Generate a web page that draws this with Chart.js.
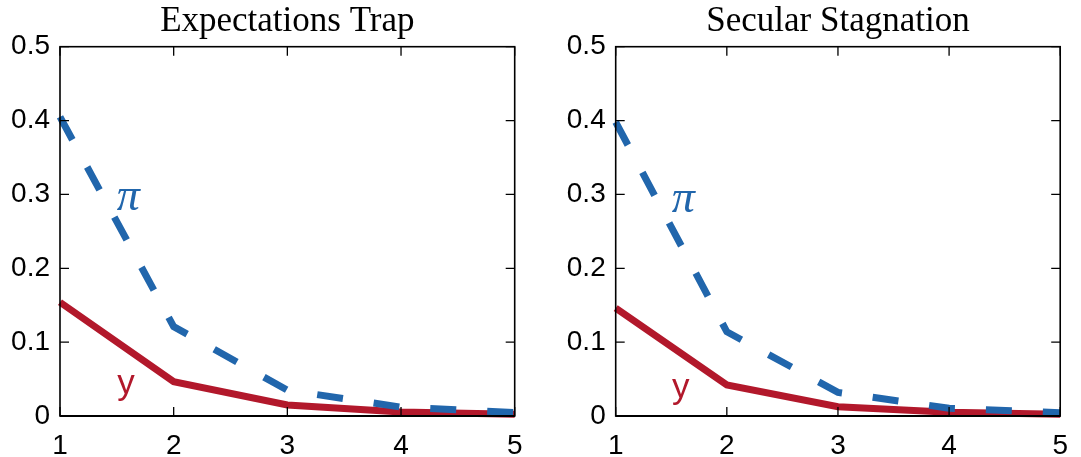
<!DOCTYPE html>
<html lang="en">
<head>
<meta charset="UTF-8">
<title>Expectations Trap / Secular Stagnation</title>
<script src="https://cdn.jsdelivr.net/npm/chart.js@4.4.1/dist/chart.umd.min.js"></script>
<style>
  html, body { margin: 0; padding: 0; background: #fff; }
  #wrap { position: relative; width: 1081px; height: 457px; }
  .panel { position: absolute; top: 0; height: 457px; }
  #left { left: 0; width: 540px; }
  #right { left: 540px; width: 541px; }
</style>
</head>
<body>
<div id="wrap">
  <div class="panel" id="left"><canvas id="trapChart"></canvas></div>
  <div class="panel" id="right"><canvas id="stagChart"></canvas></div>
</div>

<script>
// data
const periods = [1, 2, 3, 4, 5];
const yTicks = [0, 0.1, 0.2, 0.3, 0.4, 0.5];

const trapInflation = [0.405, 0.121, 0.035, 0.012, 0.0045];
const trapOutput    = [0.154, 0.0465, 0.015, 0.0055, 0.0025];
const stagInflation = [0.398, 0.114, 0.032, 0.0105, 0.0045];
const stagOutput    = [0.146, 0.042, 0.0126, 0.005, 0.0023];

const titles = ['Expectations Trap', 'Secular Stagnation'];
const seriesNames = ['\u03c0', 'y'];

// text labels for the two lines, in data units (x, y baseline)
const trapLabelPos = [[1.6, 0.279], [1.58, 0.03]];
const stagLabelPos = [[1.607, 0.276], [1.585, 0.025]];

const BLUE = '#2166ac';
const RED = '#b2182b';
const TICK_LEN = 9;

// box, inward ticks and the π / y labels
const frameAndTicks = {
    id: 'frameAndTicks',
    afterDatasetsDraw(chart, args, opts) {
        const { ctx, chartArea: a, scales: { x, y } } = chart;
        ctx.save();
        ctx.strokeStyle = '#000';
        ctx.lineWidth = 1.3;
        ctx.beginPath();
        x.ticks.forEach(t => {
            const px = x.getPixelForValue(t.value);
            ctx.moveTo(px, a.bottom); ctx.lineTo(px, a.bottom - TICK_LEN);
            ctx.moveTo(px, a.top); ctx.lineTo(px, a.top + TICK_LEN);
        });
        y.ticks.forEach(t => {
            const py = y.getPixelForValue(t.value);
            ctx.moveTo(a.left, py); ctx.lineTo(a.left + TICK_LEN, py);
            ctx.moveTo(a.right, py); ctx.lineTo(a.right - TICK_LEN, py);
        });
        ctx.stroke();

        ctx.lineWidth = 1.6;
        ctx.strokeRect(a.left, a.top, a.right - a.left, a.bottom - a.top);
        ctx.lineWidth = 2.2;
        ctx.beginPath();
        ctx.moveTo(a.left, a.bottom); ctx.lineTo(a.right, a.bottom);
        ctx.stroke();

        ctx.textAlign = 'center';
        ctx.textBaseline = 'alphabetic';
        ctx.fillStyle = BLUE;
        ctx.font = 'italic 46px "Liberation Serif"';
        ctx.fillText(seriesNames[0], x.getPixelForValue(opts.labels[0][0]), y.getPixelForValue(opts.labels[0][1]));
        ctx.fillStyle = RED;
        ctx.font = '35px "Liberation Sans"';
        ctx.fillText(seriesNames[1], x.getPixelForValue(opts.labels[1][0]), y.getPixelForValue(opts.labels[1][1]));
        ctx.restore();
    }
};

function makePanel(canvasId, title, inflation, output, labelPos, yAxisWidth, rightPad) {
    const tickFont = { family: '"Liberation Sans", Arial, sans-serif', size: 28 };
    return new Chart(document.getElementById(canvasId), {
        type: 'line',
        data: {
            datasets: [
                {
                    label: seriesNames[0],
                    data: periods.map((p, i) => ({ x: p, y: inflation[i] })),
                    borderColor: BLUE,
                    borderWidth: 7,
                    borderDash: [26, 31],
                    pointRadius: 0,
                    tension: 0,
                    clip: false
                },
                {
                    label: seriesNames[1],
                    data: periods.map((p, i) => ({ x: p, y: output[i] })),
                    borderColor: RED,
                    borderWidth: 7,
                    pointRadius: 0,
                    tension: 0,
                    clip: false
                }
            ]
        },
        options: {
            responsive: true,
            maintainAspectRatio: false,
            animation: false,
            layout: { padding: { left: 0, right: rightPad, top: 0, bottom: 0 } },
            scales: {
                x: {
                    type: 'linear',
                    min: periods[0],
                    max: periods[periods.length - 1],
                    afterBuildTicks: s => { s.ticks = periods.map(v => ({ value: v })); },
                    afterFit: s => { s.height = 41; },
                    grid: { display: false, drawTicks: false },
                    border: { display: false },
                    ticks: { font: tickFont, color: '#000', padding: 13, maxRotation: 0, callback: v => String(v) }
                },
                y: {
                    min: yTicks[0],
                    max: yTicks[yTicks.length - 1],
                    afterBuildTicks: s => { s.ticks = yTicks.map(v => ({ value: v })); },
                    afterFit: s => { s.width = yAxisWidth; },
                    grid: { display: false, drawTicks: false },
                    border: { display: false },
                    ticks: { font: tickFont, color: '#000', padding: 10, callback: v => String(v) }
                }
            },
            plugins: {
                legend: { display: false },
                tooltip: { enabled: false },
                title: {
                    display: true,
                    text: title,
                    fullSize: false,
                    color: '#000',
                    font: { family: '"Liberation Serif", serif', size: 35, weight: 'normal' },
                    padding: { top: 1, bottom: 3.7 }
                },
                frameAndTicks: { labels: labelPos }
            }
        },
        plugins: [frameAndTicks]
    });
}

makePanel('trapChart', titles[0], trapInflation, trapOutput, trapLabelPos, 60, 25.3);
makePanel('stagChart', titles[1], stagInflation, stagOutput, stagLabelPos, 75.7, 12.3);
</script>
</body>
</html>
